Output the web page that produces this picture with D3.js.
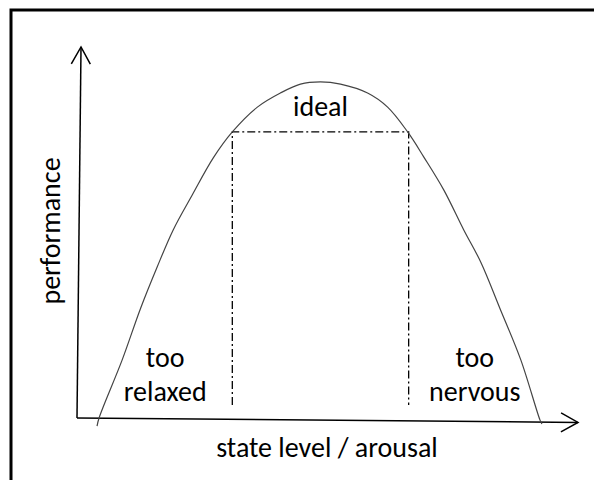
<!DOCTYPE html>
<html lang="en">
<head>
    <meta charset="UTF-8">
    <title>Performance vs arousal</title>
    <script src="https://d3js.org/d3.v7.min.js"></script>
    <style>
        body { margin: 0; background: #fff; }
        text { font-family: Calibri, Carlito, Lato, sans-serif; fill: #000; }
    </style>
</head>
<body>
    <svg id="chart" width="594" height="480"></svg>

    <script>
        // curve (arousal 0..100, performance 0..100)
        const arousal     = [4, 4.4, 9, 12.7, 16, 19.2, 23, 27.2, 31, 36, 40.6, 44.6, 48.6, 52.6, 58, 62, 66, 69.2, 73.2, 77.2, 80.6, 84.4, 88.6, 92.4, 92.8];
        const performance = [-2.2, 0, 15.6, 29.6, 40.7, 50.7, 60.1, 70.1, 77.1, 83.8, 87.6, 90.0, 90.6, 90.0, 87.6, 83.8, 77.1, 70.4, 61.5, 50.7, 42, 29.6, 15.6, -0.5, -1.6];

        // the "ideal" zone
        const idealX = [31, 66.2];
        const idealTop = 77.1;
        const idealBottom = 3.5;

        // axis end points (slightly hand-drawn)
        const yAxisEnd = [0.8, 100];
        const xAxisEnd = [100, -1.2];

        const zoneLabels = [
            { lines: ["too", "relaxed"], x: 17.6, y: 13.7 },
            { lines: ["too", "nervous"], x: 79.4, y: 13.7 }
        ];
        const idealLabel = { text: "ideal", x: 48.6, y: 81.5 };
        const xTitle = "state level / arousal";
        const yTitle = "performance";

        const svg = d3.select("#chart");

        const x = d3.scaleLinear().domain([0, 100]).range([77, 578]);
        const y = d3.scaleLinear().domain([0, 100]).range([418, 47]);

        // cadre
        svg.append("rect")
            .attr("x", 11).attr("y", 10)
            .attr("width", 640).attr("height", 520)
            .attr("fill", "none")
            .attr("stroke", "#000")
            .attr("stroke-width", 3);

        // fleche ouverte
        svg.append("defs").append("marker")
            .attr("id", "arrow")
            .attr("markerUnits", "userSpaceOnUse")
            .attr("viewBox", "-20 -12 22 24")
            .attr("markerWidth", 22).attr("markerHeight", 24)
            .attr("refX", 0).attr("refY", 0)
            .attr("orient", "auto")
            .append("path")
            .attr("d", "M-17,-9.5L0,0L-17,9.5")
            .attr("fill", "none")
            .attr("stroke", "#000")
            .attr("stroke-width", 1.5);

        // axes
        svg.append("line")
            .attr("x1", x(0)).attr("y1", y(0))
            .attr("x2", x(yAxisEnd[0])).attr("y2", y(yAxisEnd[1]))
            .attr("stroke", "#000").attr("stroke-width", 1.5)
            .attr("marker-end", "url(#arrow)");

        svg.append("line")
            .attr("x1", x(0)).attr("y1", y(0))
            .attr("x2", x(xAxisEnd[0])).attr("y2", y(xAxisEnd[1]))
            .attr("stroke", "#000").attr("stroke-width", 1.5)
            .attr("marker-end", "url(#arrow)");

        // zone ideale (tirets-points)
        const dash = "8,3,2,3";
        svg.append("path")
            .attr("d", `M${x(idealX[0])},${y(idealBottom)}V${y(idealTop)}H${x(idealX[1])}V${y(idealBottom)}`)
            .attr("fill", "none")
            .attr("stroke", "#000")
            .attr("stroke-width", 1.3)
            .attr("stroke-dasharray", dash);

        // courbe
        const points = arousal.map((a, i) => [a, performance[i]]);
        const line = d3.line()
            .x(d => x(d[0]))
            .y(d => y(d[1]))
            .curve(d3.curveCatmullRom);

        svg.append("path")
            .attr("d", line(points))
            .attr("fill", "none")
            .attr("stroke", "#444")
            .attr("stroke-width", 1.2);

        // textes
        const fontSize = 28;
        svg.append("text")
            .attr("x", x(idealLabel.x)).attr("y", y(idealLabel.y))
            .attr("text-anchor", "middle")
            .attr("font-size", fontSize)
            .text(idealLabel.text);

        zoneLabels.forEach(l => {
            l.lines.forEach((t, i) => {
                svg.append("text")
                    .attr("x", x(l.x))
                    .attr("y", y(l.y) + i * 34)
                    .attr("text-anchor", "middle")
                    .attr("font-size", fontSize)
                    .text(t);
            });
        });

        svg.append("text")
            .attr("x", 327).attr("y", 457)
            .attr("text-anchor", "middle")
            .attr("font-size", fontSize)
            .text(xTitle);

        svg.append("text")
            .attr("transform", "translate(60,231) rotate(-90)")
            .attr("text-anchor", "middle")
            .attr("font-size", fontSize)
            .text(yTitle);
    </script>
</body>
</html>
